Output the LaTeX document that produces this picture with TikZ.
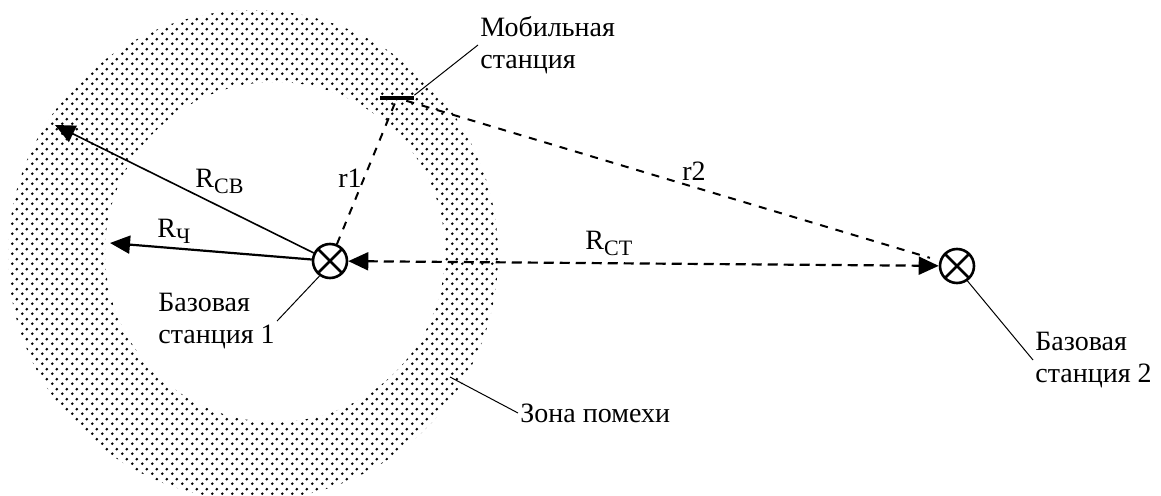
\documentclass[tikz,border=0pt]{standalone}
\usepackage{fontspec}
\setmainfont{Liberation Serif}
\usepackage{tikz}
\usetikzlibrary{arrows.meta, patterns.meta}

% dotted fill of the interference ring
\tikzdeclarepattern{
  name=zonedots,
  bottom left={(0pt,0pt)},
  top right={(5pt,5pt)},
  tile size={(5pt,5pt)},
  code={
    \fill (1.25pt,1.25pt) circle [radius=0.8pt];
    \fill (3.75pt,3.75pt) circle [radius=0.8pt];
  }
}

\newcommand{\Rsub}[1]{R\raisebox{-0.45ex}{\fontsize{11}{11}\selectfont #1}}

\begin{document}
\begin{tikzpicture}[x=0.5pt,y=-0.5pt,>={Triangle[length=10pt,width=9pt]},
    lab/.style={font=\fontsize{14}{16}\selectfont, align=left, inner sep=1pt},
    station/.style={circle, draw, line width=1.3pt, minimum size=17pt,
      inner sep=0pt, fill=white,
      path picture={\draw[line width=1.3pt]
        (path picture bounding box.north west) -- (path picture bounding box.south east)
        (path picture bounding box.north east) -- (path picture bounding box.south west);}},
    phone/.style={rectangle, fill=black, minimum width=17pt, minimum height=2.4pt, inner sep=0pt},
    dist/.style={line width=1pt, dash pattern=on 4pt off 4pt},
    leader/.style={line width=0.5pt}]

    % page
    \path[use as bounding box, fill=white] (0,0) rectangle (1161,496);

    % interference ring
    \fill[pattern=zonedots, even odd rule]
      (253,255) circle [radius=245] (275,252) circle [radius=170];

    % stations
    \node[station] (bs1) at (330,261) {};
    \node[station] (bs2) at (957,266) {};
    \node[phone] (ms) at (397,98) {};

    % radii of the zones
    \coordinate (cbtip) at (55,125);
    \coordinate (chtip) at (110,243);
    \draw[->, line width=0.8pt] (bs1) -- (cbtip);
    \draw[->, line width=1.1pt] (bs1) -- (chtip);

    % distances
    \draw[dist] (bs1) -- (ms);
    \draw[dist, shorten >=5pt] (ms) -- (bs2);
    \draw[<->, line width=1.1pt, dash pattern=on 5pt off 3pt] (bs1) -- (bs2);

    % distance labels
    \node[lab, anchor=base west] (rcb) at (193,188) {\Rsub{СВ}};
    \node[lab, anchor=base west] (rch) at (155,238) {\Rsub{Ч}};
    \node[lab, anchor=base west] (rct) at (583,250) {\Rsub{СТ}};
    \node[lab, anchor=base west] (rone) at (336,188) {r1};
    \node[lab, anchor=base west] (rtwo) at (680,181) {r2};

    % captions
    \node[lab, anchor=west] (mslab) at (478,45) {Мобильная\\станция};
    \node[lab, anchor=west] (bs1lab) at (156,321) {Базовая\\станция 1};
    \node[lab, anchor=west] (bs2lab) at (1033,360) {Базовая\\станция 2};
    \node[lab, anchor=west] (zonelab) at (518,413) {Зона помехи};
    \coordinate (zonept) at (450,377);

    % leaders
    \draw[leader] (ms.north east) -- (mslab.west);
    \draw[leader] (bs1.235) -- (bs1lab.east);
    \draw[leader] (bs2.305) -- (bs2lab.west);
    \draw[leader] (zonept) -- (zonelab.west);
\end{tikzpicture}
\end{document}
